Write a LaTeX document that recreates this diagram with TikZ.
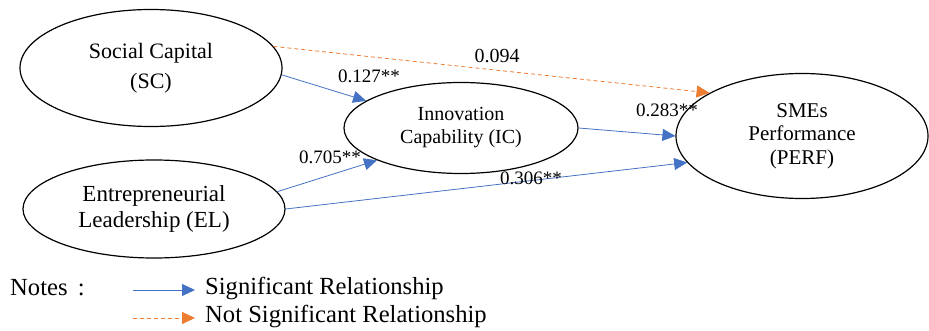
\documentclass[tikz,border=0pt]{standalone}
\usepackage{fontspec}
\setmainfont{Liberation Serif}
\usetikzlibrary{shapes.geometric,arrows.meta}
\definecolor{sigblue}{HTML}{4472C4}
\definecolor{nsorange}{HTML}{ED7D31}
\tikzset{
  construct/.style={ellipse, draw=black, line width=1.2pt, inner sep=0pt, align=center},
  sigpath/.style={draw=sigblue, line width=0.8pt, -{Triangle[length=13pt,width=12pt]}},
  nspath/.style={draw=nsorange, line width=0.8pt, dash pattern=on 4pt off 3pt,
    -{Triangle[length=13pt,width=12pt]}},
  coef/.style={inner sep=0pt, font=\fontsize{19}{22}\selectfont},
  legendtxt/.style={anchor=west, inner sep=0pt, font=\fontsize{24.6}{28}\selectfont},
}
\begin{document}
\begin{tikzpicture}[x=1pt,y=-1pt]
\useasboundingbox (0,0) rectangle (929,331);

% constructs
\node[construct, minimum width=262pt, minimum height=117pt,
      font=\fontsize{22}{30}\selectfont] (sc) at (151,68) {Social Capital\\(SC)};
\node[construct, minimum width=234pt, minimum height=91pt,
      font=\fontsize{20}{23}\selectfont] (ic) at (461,128) {Innovation\\Capability (IC)};
\node[construct, minimum width=262pt, minimum height=98pt,
      font=\fontsize{23}{26}\selectfont] (el) at (154,209) {Entrepreneurial\\Leadership (EL)};
\node[construct, minimum width=252pt, minimum height=125pt,
      font=\fontsize{21}{23.5}\selectfont] (perf) at (802,136) {SMEs\\Performance\\(PERF)};

% paths
\draw[nspath] (sc.10) -- (perf.155);
\draw[sigpath] (sc.-3) -- (ic.164);
\draw[sigpath] (el.8) -- (ic.-159);
\draw[sigpath] (ic.east) -- (perf.west);
\draw[sigpath] (el.east) -- (perf.-167);

% path coefficients
\node[coef, font=\fontsize{20}{22}\selectfont] (c094) at (497,56) {0.094};
\node[coef] (c127) at (369,76) {0.127**};
\node[coef] (c705) at (330,157) {0.705**};
\node[coef] (c283) at (667,110) {0.283**};
\node[coef] (c306) at (531,178) {0.306**};

% legend
\node[legendtxt] (notes) at (10,288) {Notes \,:};
\coordinate (sigA) at (133,290);
\coordinate (sigB) at (195,290);
\coordinate (nsA) at (133,318);
\coordinate (nsB) at (195,318);
\draw[sigpath] (sigA) -- (sigB);
\draw[nspath] (nsA) -- (nsB);
\node[legendtxt] (sigtxt) at (205,288) {Significant Relationship};
\node[legendtxt] (nstxt) at (205,316) {Not Significant Relationship};
\end{tikzpicture}
\end{document}
